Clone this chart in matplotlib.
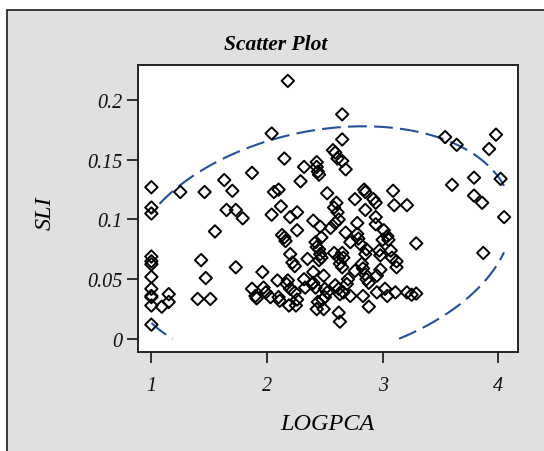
import numpy as np
import matplotlib
matplotlib.use("Agg")
import matplotlib.pyplot as plt
from matplotlib.patches import Rectangle

# ---------------- data ----------------
logpca = [
    1.00, 1.00, 1.00, 1.00, 1.00, 1.00, 1.00, 1.00, 1.00, 1.00, 1.00, 1.00,
    1.09, 1.15, 1.15,
    1.25, 1.40, 1.51, 1.43, 1.47, 1.46, 1.55, 1.63, 1.65, 1.73, 1.70, 1.73, 1.79, 1.87,
    1.87, 1.90, 1.91, 1.96, 1.97, 1.99, 2.03, 2.09,
    2.04, 2.04, 2.06, 2.10, 2.10, 2.11, 2.12,
    2.13, 2.15, 2.16, 2.15, 2.18,
    2.17, 2.20, 2.24, 2.26, 2.25, 2.19, 2.18,
    2.20, 2.26, 2.26, 2.20, 2.22, 2.24,
    2.29, 2.32, 2.32, 2.33, 2.35,
    2.40, 2.46, 2.40, 2.40, 2.39, 2.42,
    2.42, 2.45, 2.46, 2.45, 2.47, 2.43, 2.47,
    2.43, 2.43, 2.44, 2.45,
    2.43, 2.49, 2.44, 2.48, 2.50, 2.52, 2.50,
    2.49, 2.52,
    2.55, 2.59, 2.62,
    2.57, 2.59, 2.61, 2.65, 2.68,
    2.58, 2.65, 2.62, 2.66, 2.63, 2.65,
    2.59, 2.62, 2.63, 2.66,
    2.60, 2.58, 2.61,
    2.62, 2.63,
    2.65, 2.65,
    2.68, 2.70, 2.69, 2.72, 2.72,
    2.76, 2.76, 2.78, 2.78, 2.79, 2.81, 2.86, 2.85,
    2.82, 2.83, 2.85, 2.86, 2.88,
    2.83, 2.84, 2.85, 2.85, 2.88,
    2.92, 2.94, 2.94, 2.94, 2.95,
    2.97, 2.98, 2.95, 2.98,
    3.01, 3.04, 3.00, 3.05,
    3.02, 3.04, 3.07, 3.08,
    3.09, 3.10, 3.21,
    3.12, 3.12, 3.11, 3.21, 3.25, 3.29,
    3.29,
    3.54, 3.64, 3.60, 3.79, 3.79, 3.86, 3.87, 3.92, 3.98, 4.02, 4.05,
]
sli = [
    0.127, 0.110, 0.105, 0.069, 0.065, 0.0625, 0.052, 0.042, 0.036, 0.035, 0.028, 0.012,
    0.027, 0.0375, 0.031,
    0.123, 0.0335, 0.0335, 0.066, 0.051, 0.123, 0.090, 0.133, 0.108, 0.108, 0.124, 0.060, 0.101, 0.139,
    0.042, 0.036, 0.034, 0.056, 0.043, 0.039, 0.035, 0.049,
    0.172, 0.104, 0.123, 0.125, 0.035, 0.032, 0.111,
    0.087, 0.085, 0.082, 0.151, 0.216,
    0.046, 0.042, 0.039, 0.033, 0.028, 0.028, 0.049,
    0.102, 0.106, 0.091, 0.071, 0.064, 0.061,
    0.132, 0.144, 0.050, 0.043, 0.067,
    0.099, 0.094, 0.056, 0.047, 0.046, 0.043,
    0.081, 0.075, 0.071, 0.066, 0.085, 0.077, 0.068,
    0.148, 0.144, 0.140, 0.1375,
    0.025, 0.025, 0.031, 0.033, 0.035, 0.039, 0.042,
    0.053, 0.122,
    0.093, 0.097, 0.100,
    0.158, 0.156, 0.151, 0.149, 0.142,
    0.072, 0.072, 0.068, 0.068, 0.063, 0.060,
    0.045, 0.042, 0.0375, 0.039,
    0.114, 0.110, 0.106,
    0.022, 0.0145,
    0.188, 0.167,
    0.089, 0.050, 0.046, 0.036, 0.081,
    0.117, 0.057, 0.097, 0.088, 0.084, 0.079, 0.075, 0.071,
    0.063, 0.059, 0.054, 0.050, 0.047,
    0.036, 0.125, 0.123, 0.108, 0.027,
    0.117, 0.114, 0.102, 0.096, 0.053,
    0.074, 0.070, 0.039, 0.058,
    0.091, 0.086, 0.083, 0.083,
    0.042, 0.036, 0.074, 0.068,
    0.124, 0.112, 0.112,
    0.065, 0.060, 0.039, 0.039, 0.037, 0.038,
    0.080,
    0.169, 0.1625, 0.129, 0.135, 0.120, 0.114, 0.072, 0.159, 0.171, 0.134, 0.102,
]

# prediction ellipse parameters (center, half-widths, phase)
ell_center = (2.46, 0.079)
ell_radii = (1.66, 0.099)
ell_phase_deg = 77.0

x_ticks = [1, 2, 3, 4]
y_ticks = [0, 0.05, 0.1, 0.15, 0.2]
y_ticklabels = ["0", "0.05", "0.1", "0.15", "0.2"]

# ---------------- figure ----------------
W, H = 544, 452
fig = plt.figure(figsize=(W / 100, H / 100), dpi=100)
fig.patch.set_facecolor("white")

bg = Rectangle((7 / W, -0.05), 1.05, 1 - 11 / H + 0.05, transform=fig.transFigure,
               facecolor="#E0E0E0", edgecolor="#1a1a1a", linewidth=1.2, zorder=-10)
fig.patches.append(bg)

ax = fig.add_axes([137.5 / W, 1 - 353 / H, (517.5 - 137.5) / W, (353 - 66) / H])
ax.set_zorder(5)
ax.set_facecolor("white")
ax.set_xlim(0.880, 4.166)
ax.set_ylim(-0.0109, 0.2293)

for s in ax.spines.values():
    s.set_linewidth(1.4)
    s.set_color("#222222")

serif = "Liberation Serif"

ax.scatter(logpca, sli, marker="D", s=40, facecolors="none", edgecolors="black",
           linewidths=1.4, zorder=3)

# ellipse
t = np.linspace(0, 2 * np.pi, 1441)
ex = ell_center[0] + ell_radii[0] * np.cos(t)
ey = ell_center[1] + ell_radii[1] * np.cos(t - np.deg2rad(ell_phase_deg))
mask = (ex < min(logpca)) | (ex > max(logpca)) | (ey < 0)
ex = np.where(mask, np.nan, ex)
ey = np.where(mask, np.nan, ey)
k = int(np.argmax(mask))
ex = np.roll(ex, -k)
ey = np.roll(ey, -k)
line, = ax.plot(ex, ey, color="#23509A", linewidth=1.5, zorder=2)
line.set_dashes((9, 3.5))

ax.set_xticks(x_ticks)
ax.set_xticklabels([str(v) for v in x_ticks])
ax.set_yticks(y_ticks)
ax.set_yticklabels(y_ticklabels)
ax.tick_params(axis="both", direction="out", length=8, width=1.3, color="#222222")
ax.tick_params(axis="x", pad=9.5)
ax.tick_params(axis="y", pad=3)
for lab in ax.get_xticklabels() + ax.get_yticklabels():
    lab.set_fontfamily(serif)
    lab.set_fontstyle("italic")
    lab.set_fontsize(14.5)
    lab.set_color("#111111")

fig.text(275.5 / W, 1 - 44.5 / H, "Scatter Plot", ha="center", va="center",
         fontfamily=serif, fontstyle="italic", fontweight="bold", fontsize=15.5)
fig.text(327.5 / W, 1 - 425 / H, "LOGPCA", ha="center", va="center",
         fontfamily=serif, fontstyle="italic", fontsize=17.5)
fig.text(45 / W, 1 - 213 / H, "SLI", ha="center", va="center", rotation=90,
         fontfamily=serif, fontstyle="italic", fontsize=17.5)

fig.savefig("out.png", dpi=100, facecolor=fig.get_facecolor())
